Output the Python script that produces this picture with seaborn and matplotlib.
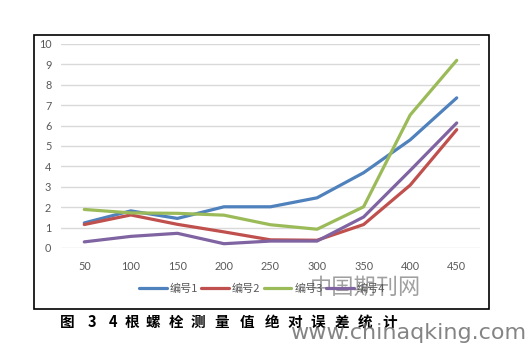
import matplotlib
matplotlib.use("Agg")
import matplotlib.pyplot as plt
import seaborn as sns
import pandas as pd
from matplotlib.patches import Rectangle

categories = [50, 100, 150, 200, 250, 300, 350, 400, 450]
s1 = [1.23, 1.82, 1.45, 2.02, 2.02, 2.46, 3.69, 5.30, 7.36]
s2 = [1.15, 1.62, 1.16, 0.79, 0.40, 0.38, 1.15, 3.08, 5.80]
s3 = [1.89, 1.72, 1.70, 1.61, 1.14, 0.92, 2.02, 6.52, 9.20]
s4 = [0.30, 0.57, 0.72, 0.21, 0.34, 0.34, 1.52, 3.80, 6.13]
names = ["编号1", "编号2", "编号3", "编号4"]
colors = ["#4F81BD", "#C0504D", "#9BBB59", "#8064A2"]
caption = "图34根螺栓测量值绝对误差统计"

sns.set_theme(style="white")
plt.rcParams['font.family'] = ['Lato', 'Noto Sans CJK SC', 'DejaVu Sans']

rows = []
for name, vals in zip(names, [s1, s2, s3, s4]):
    for i, (c, v) in enumerate(zip(categories, vals)):
        rows.append({"pos": i, "cat": c, "val": v, "series": name})
df = pd.DataFrame(rows)

fig = plt.figure(figsize=(5.3, 3.45), dpi=100)
ax = fig.add_axes([61/530, 1-248/345, (480-61)/530, (248-44)/345])

sns.lineplot(data=df, x="pos", y="val", hue="series", palette=colors,
             linewidth=2.3, ax=ax, legend=True)

ax.set_xlim(-0.5, len(categories)-0.5)
ax.set_ylim(0, 10)
ax.set_yticks(range(0, 11))
ax.set_xticks(range(len(categories)))
ax.set_xticklabels([str(c) for c in categories])
ax.grid(axis="y", color="#D9D9D9", linewidth=1)
ax.grid(axis="x", visible=False)
ax.set_axisbelow(True)
for s in ax.spines.values():
    s.set_visible(False)
for line in ax.lines:
    line.set_clip_on(False)
    line.set_solid_capstyle("round")
ax.tick_params(axis="both", length=0, labelsize=7.8, labelcolor="#595959")
ax.tick_params(axis="y", pad=7)
ax.tick_params(axis="x", pad=9)
ax.set_xlabel("")
ax.set_ylabel("")

handles, labels = ax.get_legend_handles_labels()
ax.legend_.remove()
leg = fig.legend(handles, labels, loc="center", bbox_to_anchor=(262/530, 1-289/345),
                 ncol=4, frameon=False, handlelength=2.5,
                 handletextpad=0.25, columnspacing=0.3,
                 prop={'family': ['Noto Sans CJK SC', 'DejaVu Sans'], 'size': 8})
for t in leg.get_texts():
    t.set_color("#595959")

# outer box
fig.patches.append(Rectangle((34/530, 1-309/345), (489-34)/530, (309-35)/345,
                             transform=fig.transFigure, fill=False,
                             edgecolor="black", linewidth=1.2))

# caption with wide spacing
xs = [67, 92, 113, 132, 153, 176, 198, 222, 247, 272, 295, 318, 342, 365, 390]
for ch, x in zip(caption, xs):
    fig.text(x/530, 1-322/345, ch, ha="center", va="center", fontsize=10.5,
             fontweight="bold", color="black",
             family=['Noto Sans CJK SC', 'DejaVu Sans'])

# watermarks
fig.text(365/530, 1-287/345, "中国期刊网", ha="center", va="center", fontsize=16,
         color="#808080", alpha=0.75, fontweight="light",
         family=['Noto Sans CJK SC', 'DejaVu Sans'])
fig.text(408/530, 1-333/345, "www.chinaqking.com", ha="center", va="center",
         fontsize=16, color="#666666", alpha=0.8, family=['DejaVu Sans'])

fig.savefig("out.png", dpi=100)
